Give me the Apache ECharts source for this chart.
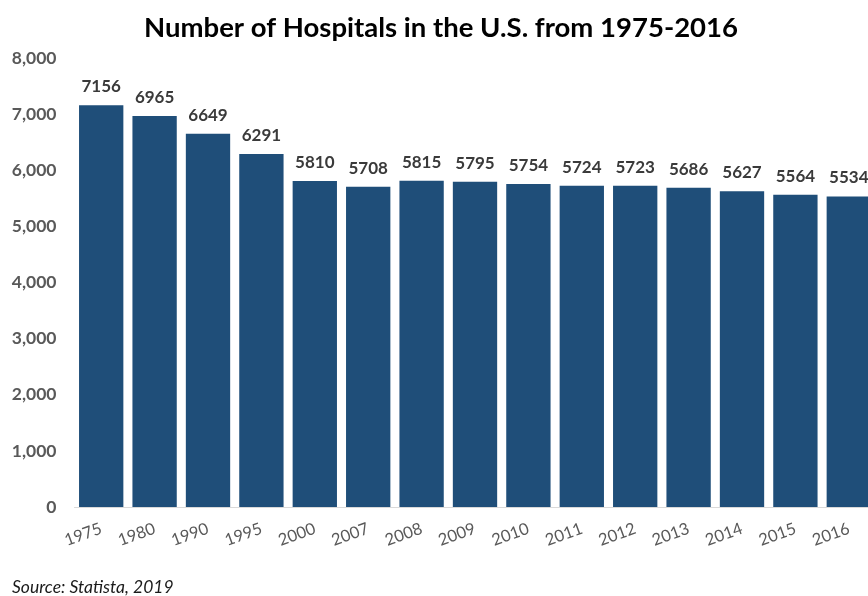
<!DOCTYPE html>
<html>
<head>
<meta charset="utf-8">
<script src="https://cdn.jsdelivr.net/npm/echarts@6/dist/echarts.min.js"></script>
<style>
  html, body { margin: 0; padding: 0; background: #fff; overflow: hidden; }
  /* the plot runs slightly past the right edge of the page, so the canvas is a little wider */
  #chart { width: 880px; height: 596px; }
</style>
</head>
<body>
<div id="chart"></div>
<script>
// Hospital counts in the U.S., by year
const years = ['1975', '1980', '1990', '1995', '2000', '2007', '2008', '2009', '2010', '2011', '2012', '2013', '2014', '2015', '2016'];
const hospitals = [7156, 6965, 6649, 6291, 5810, 5708, 5815, 5795, 5754, 5724, 5723, 5686, 5627, 5564, 5534];
const yTicks = [0, 1000, 2000, 3000, 4000, 5000, 6000, 7000, 8000];

const font = 'Lato, "Open Sans", sans-serif';
const chart = echarts.init(document.getElementById('chart'), null, { renderer: 'canvas' });

chart.setOption({
  animation: false,
  backgroundColor: '#ffffff',
  title: {
    text: 'Number of Hospitals in the U.S. from 1975-2016',
    left: 436,
    textAlign: 'center',
    top: 9,
    textStyle: { fontFamily: font, fontSize: 27.5, fontWeight: 'bold', color: '#000000' }
  },
  graphic: [{
    type: 'text',
    left: 12,
    top: 578,
    style: {
      text: 'Source: Statista, 2019',
      font: 'italic 17.5px ' + font,
      fill: '#1a1a1a'
    }
  }],
  grid: { left: 74.5, top: 58, width: 801, height: 449, containLabel: false },
  xAxis: {
    type: 'category',
    data: years,
    axisLine: { show: true, lineStyle: { color: '#d9d9d9', width: 1 } },
    axisTick: { show: false },
    axisLabel: {
      rotate: 20,
      margin: 21,
      interval: 0,
      fontFamily: font,
      fontSize: 16.5,
      color: '#595959'
    }
  },
  yAxis: {
    type: 'value',
    min: yTicks[0],
    max: yTicks[yTicks.length - 1],
    interval: 1000,
    splitLine: { show: false },
    axisLine: { show: false },
    axisTick: { show: false },
    axisLabel: {
      margin: 18,
      fontFamily: font,
      fontSize: 17.5,
      fontWeight: 'bold',
      color: '#595959',
      formatter: v => v.toLocaleString('en-US')
    }
  },
  series: [{
    type: 'bar',
    data: hospitals,
    barCategoryGap: '17%',
    itemStyle: { color: '#1f4e79' },
    label: {
      show: true,
      position: 'top',
      distance: 10,
      fontFamily: font,
      fontSize: 17,
      fontWeight: 'bold',
      color: '#3a3a3a'
    }
  }]
});
</script>
</body>
</html>
